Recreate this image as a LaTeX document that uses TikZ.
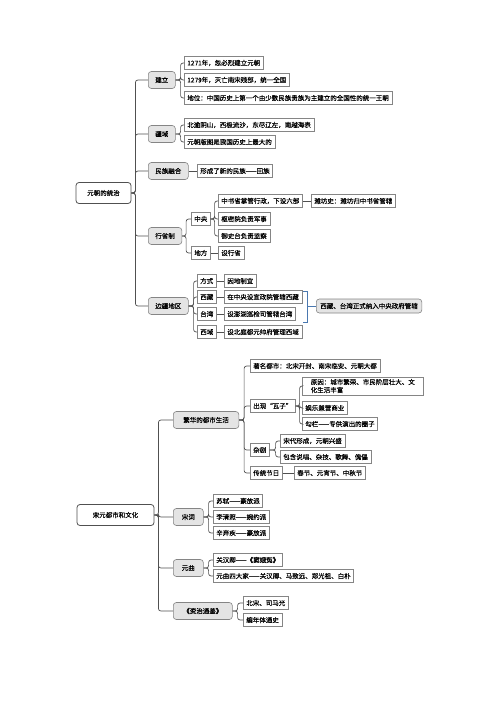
\documentclass[tikz,border=0pt]{standalone}
\usepackage{fontspec}
\setmainfont{Noto Sans CJK SC}[BoldFont={Noto Sans CJK SC}, BoldFeatures={FakeBold=0.35}]
\usepackage{tikz}
\usetikzlibrary{positioning, calc}
\usepackage{xcolor}
\definecolor{linegray}{HTML}{505050}
\definecolor{boxgray}{HTML}{858585}
\definecolor{topicfill}{HTML}{E4E4E4}
\definecolor{bracketblue}{HTML}{4A78B0}
\newcommand{\mapfont}{\fontsize{6.5pt}{8pt}\selectfont\bfseries}
\tikzstyle{root} = [rectangle, rounded corners=3pt, draw=linegray, line width=0.8pt,
    fill=white, minimum width=55pt, minimum height=21pt, inner sep=2pt, font=\mapfont]
\tikzstyle{topic} = [rectangle, rounded corners=3pt, draw=boxgray, line width=0.6pt,
    fill=topicfill, minimum height=17pt, inner xsep=7pt, inner ysep=2pt, font=\mapfont, anchor=west]
\tikzstyle{leaf} = [rectangle, draw=boxgray, line width=0.6pt, fill=white,
    minimum height=13pt, inner xsep=3pt, inner ysep=2pt, font=\mapfont, anchor=west]
\tikzstyle{link} = [draw=linegray, line width=0.7pt, rounded corners=2.5pt]
\tikzstyle{bracket} = [draw=bracketblue, line width=0.8pt]

\begin{document}
\begin{tikzpicture}[x=1pt, y=1pt]
\useasboundingbox (0,0) rectangle (500,-707);
% --- 元朝的统治 ---
\node (root1) [root] at (103.5,-193) {元朝的统治};
\node (jianli) [topic] at (148,-80) {建立};
\node (jl1) [leaf] at (184,-63) {1271年，忽必烈建立元朝};
\node (jl2) [leaf] at (184,-80) {1279年，灭亡南宋残部，统一全国};
\node (jl3) [leaf] at (184,-98) {地位：中国历史上第一个由少数民族贵族为主建立的全国性的统一王朝};
\node (jiangyu) [topic] at (148,-134) {疆域};
\node (jy1) [leaf] at (184,-125) {北逾阴山，西极流沙，东尽辽左，南越海表};
\node (jy2) [leaf] at (184,-142) {元朝版图是我国历史上最大的};
\node (ronghe) [topic] at (148,-171) {民族融合};
\node (rh1) [leaf] at (197,-171) {形成了新的民族——回族};
\node (xingsheng) [topic] at (148,-236) {行省制};
\node (zhongyang) [leaf] at (191,-219) {中央};
\node (difang) [leaf] at (191,-253) {地方};
\node (zy1) [leaf] at (218,-201) {中书省掌管行政，下设六部};
\node (zy2) [leaf] at (218,-219) {枢密院负责军事};
\node (zy3) [leaf] at (218,-236) {御史台负责监察};
\node (df1) [leaf] at (218,-253) {设行省};
\node (weifang) [leaf] at (311,-201) {潍坊史：潍坊归中书省管辖};
\node (bianjiang) [topic] at (148,-306) {边疆地区};
\node (fangshi) [leaf] at (197,-281) {方式};
\node (xizang) [leaf] at (197,-297) {西藏};
\node (taiwan) [leaf] at (197,-314) {台湾};
\node (xiyu) [leaf] at (197,-332) {西域};
\node (fs1) [leaf] at (224,-281) {因地制宜};
\node (xz1) [leaf] at (224,-297) {在中央设宣政院管辖西藏};
\node (tw1) [leaf] at (224,-314) {设澎湖巡检司管辖台湾};
\node (xy1) [leaf] at (224,-332) {设北庭都元帅府管理西域};
\node (jieguo) [topic, inner xsep=4pt, minimum height=14pt] at (316,-306) {西藏、台湾正式纳入中央政府管辖};

% --- 宋元都市和文化 ---
\node (root2) [root, minimum width=77pt] at (115.5,-515) {宋元都市和文化};
\node (fanhua) [topic, inner xsep=10pt] at (173,-420) {繁华的都市生活};
\node (mingdu) [leaf] at (250,-366) {著名都市：北宋开封、南宋临安、元朝大都};
\node (wazi) [leaf] at (250,-406) {出现“瓦子”};
\node (yuanyin) [leaf, align=left, minimum width=121pt] at (302,-386) {原因：城市繁荣、市民阶层壮大、文\\化生活丰富};
\node (yule) [leaf] at (302,-408) {娱乐兼营商业};
\node (goulan) [leaf] at (302,-424) {勾栏——专供演出的圈子};
\node (zaju) [leaf] at (250,-450) {杂剧};
\node (zj1) [leaf] at (280,-441) {宋代形成，元朝兴盛};
\node (zj2) [leaf] at (280,-457) {包含说唱、杂技、歌舞、傀儡};
\node (jieri) [leaf] at (250,-473) {传统节日};
\node (jr1) [leaf] at (294,-473) {春节、元宵节、中秋节};
\node (songci) [topic, inner xsep=8.5pt] at (173,-517) {宋词};
\node (sc1) [leaf] at (213,-501) {苏轼——豪放派};
\node (sc2) [leaf] at (213,-517) {李清照——婉约派};
\node (sc3) [leaf] at (213,-533) {辛弃疾——豪放派};
\node (yuanqu) [topic, inner xsep=8.5pt] at (173,-568) {元曲};
\node (yq1) [leaf] at (213,-560) {关汉卿——《窦娥冤》};
\node (yq2) [leaf] at (213,-576) {元曲四大家——关汉卿、马致远、郑光祖、白朴};
\node (zizhi) [topic, inner xsep=10pt] at (173,-611) {《资治通鉴》};
\node (zz1) [leaf] at (243,-603) {北宋、司马光};
\node (zz2) [leaf] at (243,-620) {编年体通史};

% --- 连线：元朝的统治 ---
\foreach \c in {jianli, jiangyu, ronghe, xingsheng, bianjiang}
  \draw[link] (root1.east) -- ++(4,0) |- (\c.west);
\foreach \c in {jl1, jl2, jl3}
  \draw[link] (jianli.east) -- ++(5,0) |- (\c.west);
\foreach \c in {jy1, jy2}
  \draw[link] (jiangyu.east) -- ++(5,0) |- (\c.west);
\draw[link] (ronghe) -- (rh1);
\foreach \c in {zhongyang, difang}
  \draw[link] (xingsheng.east) -- ++(4,0) |- (\c.west);
\foreach \c in {zy1, zy2, zy3}
  \draw[link] (zhongyang.east) -- ++(4,0) |- (\c.west);
\draw[link] (difang) -- (df1);
\draw[link] (zy1) -- (weifang);
\foreach \c in {fangshi, xizang, taiwan, xiyu}
  \draw[link] (bianjiang.east) -- ++(5,0) |- (\c.west);
\draw[link] (fangshi) -- (fs1);
\draw[link] (xizang) -- (xz1);
\draw[link] (taiwan) -- (tw1);
\draw[link] (xiyu) -- (xy1);
\draw[bracket] (303,-291) -- (307,-291) -- (307,-322) -- (303,-322);
\draw[bracket] (307,-306) -- (jieguo.west);

% --- 连线：宋元都市和文化 ---
\foreach \c in {fanhua, songci, yuanqu, zizhi}
  \draw[link] (root2.east) -- ++(4,0) |- (\c.west);
\foreach \c in {mingdu, wazi, zaju, jieri}
  \draw[link] (fanhua.east) -- ++(5,0) |- (\c.west);
\foreach \c in {yuanyin, yule, goulan}
  \draw[link] (wazi.east) -- ++(4,0) |- (\c.west);
\foreach \c in {zj1, zj2}
  \draw[link] (zaju.east) -- ++(6,0) |- (\c.west);
\draw[link] (jieri) -- (jr1);
\foreach \c in {sc1, sc2, sc3}
  \draw[link] (songci.east) -- ++(5,0) |- (\c.west);
\foreach \c in {yq1, yq2}
  \draw[link] (yuanqu.east) -- ++(5,0) |- (\c.west);
\foreach \c in {zz1, zz2}
  \draw[link] (zizhi.east) -- ++(5,0) |- (\c.west);
\end{tikzpicture}
\end{document}
